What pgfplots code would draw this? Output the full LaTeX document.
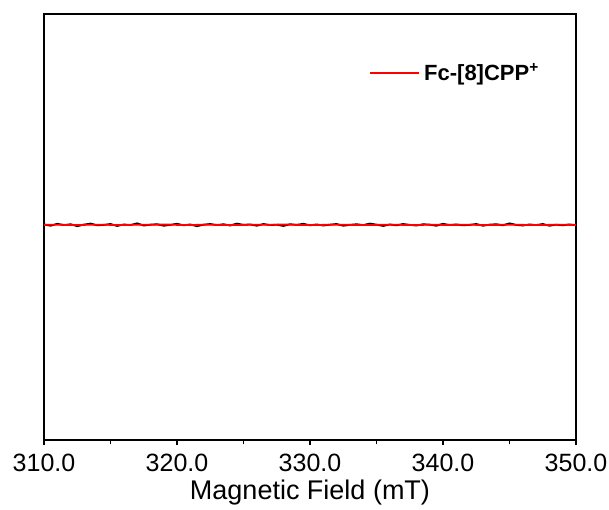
\documentclass[border=0pt]{standalone}
\usepackage{pgfplots}
\pgfplotsset{compat=1.18}
\usepackage{pgfplotstable}
\usepackage{fontspec}
\setmainfont{Liberation Sans}

\pgfplotstableread{
x y
310.0 0.012
310.5 0.006
311.0 0.015
311.5 0.009
312.0 0.013
312.5 0.004
313.0 0.011
313.5 0.016
314.0 0.008
314.5 0.010
315.0 0.014
315.5 0.005
316.0 0.012
316.5 0.009
317.0 0.017
317.5 0.007
318.0 0.011
318.5 0.013
319.0 0.006
319.5 0.010
320.0 0.015
320.5 0.008
321.0 0.012
321.5 0.004
322.0 0.011
322.5 0.014
323.0 0.009
323.5 0.013
324.0 0.007
324.5 0.016
325.0 0.010
325.5 0.012
326.0 0.006
326.5 0.014
327.0 0.009
327.5 0.011
328.0 0.005
328.5 0.013
329.0 0.010
329.5 0.015
330.0 0.008
330.5 0.012
331.0 0.007
331.5 0.011
332.0 0.014
332.5 0.006
333.0 0.010
333.5 0.013
334.0 0.009
334.5 0.016
335.0 0.011
335.5 0.005
336.0 0.012
336.5 0.008
337.0 0.014
337.5 0.010
338.0 0.007
338.5 0.013
339.0 0.011
339.5 0.006
340.0 0.015
340.5 0.009
341.0 0.012
341.5 0.008
342.0 0.010
342.5 0.014
343.0 0.006
343.5 0.011
344.0 0.013
344.5 0.008
345.0 0.017
345.5 0.010
346.0 0.007
346.5 0.012
347.0 0.009
347.5 0.014
348.0 0.006
348.5 0.011
349.0 0.008
349.5 0.012
350.0 0.009
}\blacktab

\pgfplotstableread{
x y
310 0.010
311 0.011
312 0.009
313 0.010
314 0.011
315 0.010
316 0.009
317 0.011
318 0.010
319 0.012
320 0.010
321 0.009
322 0.011
323 0.010
324 0.009
325 0.010
326 0.011
327 0.010
328 0.012
329 0.010
330 0.009
331 0.010
332 0.011
333 0.010
334 0.009
335 0.010
336 0.011
337 0.010
338 0.009
339 0.011
340 0.010
341 0.010
342 0.011
343 0.009
344 0.010
345 0.011
346 0.010
347 0.009
348 0.010
349 0.011
350 0.009
}\redtab

\begin{document}
\begin{tikzpicture}
\useasboundingbox (-22pt,-34.5pt) rectangle (282.5pt,220pt);
\begin{axis}[
  scale only axis,
  width=266pt, height=213pt,
  at={(0,0)}, anchor=south west,
  xmin=310, xmax=350, ymin=-1, ymax=1,
  axis line style={line width=1pt},
  xtick={310,320,330,340,350},
  xticklabels={310.0,320.0,330.0,340.0,350.0},
  minor xtick={315,325,335,345},
  xtick pos=bottom,
  tick align=outside,
  major tick length=2.5pt,
  minor tick length=2pt,
  every tick/.style={black, line width=0.8pt},
  ytick=\empty,
  tick label style={font=\fontsize{12.5}{14}\selectfont},
  xticklabel style={yshift=-1pt},
  xlabel={Magnetic Field (mT)},
  xlabel style={font=\fontsize{13.5}{15}\selectfont, yshift=3pt},
  legend style={at={(0.611,0.861)}, anchor=west, draw=none, fill=none,
    inner sep=0pt, font=\fontsize{11}{13}\selectfont\bfseries},
  legend cell align=left,
  legend image code/.code={\draw[#1] (0cm,0cm) -- (0.86cm,0cm);},
]
\addplot[black, line width=0.9pt, forget plot] table[x=x,y=y] {\blacktab};
\addplot[red, line width=0.9pt] table[x=x,y=y] {\redtab};
\addlegendentry{Fc-[8]CPP\textsuperscript{+}}
\end{axis}
\end{tikzpicture}
\end{document}
